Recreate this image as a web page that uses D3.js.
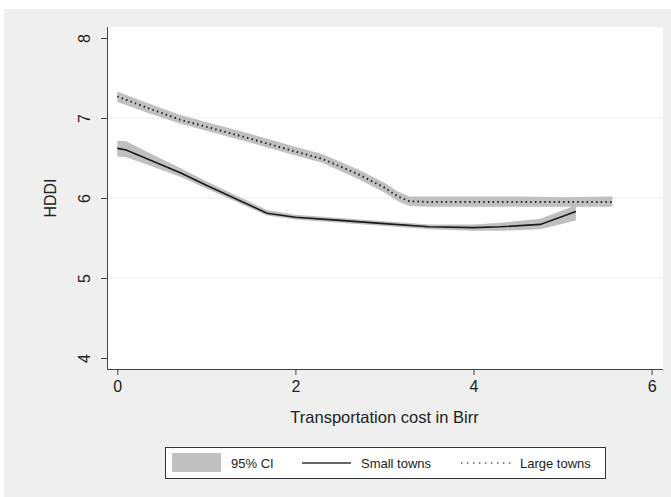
<!DOCTYPE html>
<html>
<head>
<meta charset="utf-8">
<script src="https://cdn.jsdelivr.net/npm/d3@7"></script>
<style>
  body { margin: 0; background: #ffffff; }
  text { font-family: "Liberation Sans", Arial, sans-serif; fill: #222; }
</style>
</head>
<body>
<div id="my_dataviz"></div>
<script>
// Small towns: fitted HDDI with 95% CI
const smallX  = [0, 0.1, 0.4, 0.72, 1.0, 1.68, 2.0, 2.5, 3.0, 3.5, 4.0, 4.3, 4.75, 5.15];
const smallY  = [6.62, 6.6, 6.46, 6.31, 6.16, 5.81, 5.76, 5.72, 5.68, 5.64, 5.63, 5.64, 5.67, 5.83];
const smallLo = [6.52, 6.51, 6.39, 6.26, 6.12, 5.78, 5.73, 5.69, 5.65, 5.61, 5.59, 5.59, 5.61, 5.72];
const smallHi = [6.72, 6.71, 6.54, 6.37, 6.21, 5.85, 5.79, 5.75, 5.71, 5.67, 5.67, 5.69, 5.74, 5.91];

// Large towns
const largeX  = [0, 0.33, 0.7, 1.0, 1.5, 2.0, 2.3, 2.7, 3.0, 3.15, 3.28, 3.5, 4.0, 4.5, 5.0, 5.56];
const largeY  = [7.27, 7.13, 6.98, 6.89, 6.74, 6.58, 6.49, 6.30, 6.13, 6.02, 5.96, 5.95, 5.95, 5.95, 5.95, 5.95];
const largeLo = [7.20, 7.07, 6.93, 6.84, 6.69, 6.53, 6.44, 6.24, 6.07, 5.96, 5.90, 5.89, 5.89, 5.89, 5.89, 5.89];
const largeHi = [7.33, 7.19, 7.04, 6.95, 6.80, 6.64, 6.55, 6.36, 6.19, 6.08, 6.02, 6.02, 6.02, 6.02, 6.01, 6.02];

const xTicks = [0, 2, 4, 6];
const yTicks = [4, 5, 6, 7, 8];
const gridVals = [5, 6, 7];
const legendLabels = ["95% CI", "Small towns", "Large towns"];

const W = 671, H = 497;
const plot = { left: 107, right: 663, top: 27, bottom: 369 };

const svg = d3.select("#my_dataviz")
    .append("svg")
    .attr("width", W)
    .attr("height", H);

// grey graph region
svg.append("rect")
    .attr("x", 4).attr("y", 9)
    .attr("width", W - 4).attr("height", H - 9)
    .attr("fill", "#efefef");

// white plot region
svg.append("rect")
    .attr("x", plot.left).attr("y", plot.top)
    .attr("width", plot.right - plot.left).attr("height", plot.bottom - plot.top)
    .attr("fill", "#ffffff");

const x = d3.scaleLinear().domain([0, 6]).range([117.3, 651.6]);
const y = d3.scaleLinear().domain([4, 8]).range([358, 38]);

// gridlines
svg.append("g")
    .selectAll("line")
    .data(gridVals)
    .join("line")
    .attr("x1", plot.left + 1).attr("x2", plot.right)
    .attr("y1", d => y(d)).attr("y2", d => y(d))
    .attr("stroke", "#ebebeb")
    .attr("stroke-width", 1);

function toRows(xs, ys, lo, hi) {
    return xs.map((v, i) => ({ x: v, y: ys[i], lo: lo[i], hi: hi[i] }));
}
const small = toRows(smallX, smallY, smallLo, smallHi);
const large = toRows(largeX, largeY, largeLo, largeHi);

const area = d3.area()
    .x(d => x(d.x))
    .y0(d => y(d.lo))
    .y1(d => y(d.hi));
const line = d3.line()
    .x(d => x(d.x))
    .y(d => y(d.y));

// confidence bands
[small, large].forEach(s => {
    svg.append("path")
        .attr("d", area(s))
        .attr("fill", "#c0c0c0")
        .attr("stroke", "none");
});

// fitted lines
svg.append("path")
    .attr("d", line(small))
    .attr("fill", "none")
    .attr("stroke", "#1a1a1a")
    .attr("stroke-width", 1.6);

svg.append("path")
    .attr("d", line(large))
    .attr("fill", "none")
    .attr("stroke", "#1a1a1a")
    .attr("stroke-width", 2)
    .attr("stroke-dasharray", "1.4,3.3");

// axes
const xAxis = svg.append("g")
    .attr("transform", `translate(0,${plot.bottom})`)
    .call(d3.axisBottom(x).tickValues(xTicks).tickSize(6).tickPadding(6).tickFormat(d3.format("d")));
xAxis.select(".domain").attr("d", `M${plot.left},0.5H${plot.right}`).attr("stroke", "#444");
xAxis.selectAll(".tick line").attr("stroke", "#444");
xAxis.selectAll("text").attr("font-size", "16px").attr("fill", "#222");

const yAxis = svg.append("g")
    .attr("transform", `translate(${plot.left},0)`)
    .call(d3.axisLeft(y).tickValues(yTicks).tickSize(6).tickFormat(d3.format("d")));
yAxis.select(".domain").attr("d", `M0.5,${plot.top}V${plot.bottom}`).attr("stroke", "#444");
yAxis.selectAll(".tick line").attr("stroke", "#444");
yAxis.selectAll(".tick text")
    .attr("x", 0).attr("dy", 0)
    .attr("transform", "translate(-21,0) rotate(-90)")
    .attr("text-anchor", "middle")
    .attr("dominant-baseline", "middle")
    .attr("font-size", "16px")
    .attr("fill", "#222");

// axis titles
svg.append("text")
    .attr("x", (plot.left + 1 + plot.right) / 2 - 1)
    .attr("y", 423)
    .attr("text-anchor", "middle")
    .attr("font-size", "16.5px")
    .text("Transportation cost in Birr");

svg.append("text")
    .attr("transform", `translate(56,${y(6)}) rotate(-90)`)
    .attr("text-anchor", "middle")
    .attr("font-size", "16px")
    .text("HDDI");

// legend
const legend = svg.append("g");
legend.append("rect")
    .attr("x", 165.5).attr("y", 447.5)
    .attr("width", 440).attr("height", 31)
    .attr("fill", "#ffffff")
    .attr("stroke", "#333")
    .attr("stroke-width", 1);
legend.append("rect")
    .attr("x", 172).attr("y", 453)
    .attr("width", 49).attr("height", 19)
    .attr("fill", "#c0c0c0");
legend.append("line")
    .attr("x1", 302).attr("x2", 351)
    .attr("y1", 463).attr("y2", 463)
    .attr("stroke", "#333").attr("stroke-width", 1.6);
legend.append("line")
    .attr("x1", 461).attr("x2", 511)
    .attr("y1", 463).attr("y2", 463)
    .attr("stroke", "#555").attr("stroke-width", 1.4)
    .attr("stroke-dasharray", "1.4,4.6");
legend.selectAll(".lab")
    .data(legendLabels)
    .join("text")
    .attr("class", "lab")
    .attr("x", (d, i) => [231, 361, 520][i])
    .attr("y", 468)
    .attr("font-size", "13px")
    .text(d => d);
</script>
</body>
</html>
